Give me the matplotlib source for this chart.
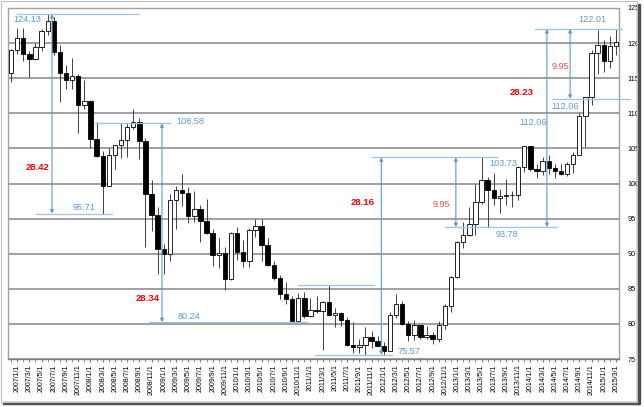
import pandas as pd
import matplotlib.pyplot as plt
from matplotlib.patches import Rectangle

plt.rcParams['font.family'] = ['Liberation Sans', 'DejaVu Sans']

# monthly candles, 2006/12 .. 2015/3
months = pd.date_range('2006-12-01', periods=100, freq='MS')

opens = [115.8, 119.0, 120.7, 118.5, 117.8, 119.5, 121.7, 123.2, 118.7, 115.8,
         114.8, 115.3, 111.2, 111.7, 106.4, 103.9, 99.7, 104.0, 105.5, 106.2,
         108.1, 108.8, 106.0, 98.5, 95.5, 90.6, 89.9, 97.6, 99.1, 98.6,
         95.3, 96.4, 94.7, 93.0, 89.8, 90.1, 86.4, 93.0, 90.3, 88.9,
         93.4, 93.9, 91.3, 88.4, 86.5, 84.2, 83.5, 80.4, 83.7, 81.1,
         82.0, 81.8, 83.1, 81.2, 81.5, 80.5, 77.0, 76.7, 77.0, 78.1,
         77.6, 76.9, 76.2, 81.2, 82.9, 80.0, 78.4, 79.8, 78.1, 78.4,
         77.9, 79.8, 82.5, 86.7, 91.7, 92.6, 94.2, 97.4, 100.5, 99.1,
         97.9, 98.2, 98.3, 98.4, 102.4, 105.3, 102.0, 101.8, 103.2, 102.2,
         101.8, 101.3, 102.8, 104.1, 109.6, 112.3, 118.6, 119.8, 117.5, 119.6]
highs = [119.1, 122.2, 122.2, 118.9, 120.0, 122.0, 124.13, 123.7, 119.8, 116.9,
         117.9, 115.6, 114.7, 111.9, 108.7, 104.7, 105.0, 105.5, 108.6, 108.6,
         110.66, 109.4, 106.5, 100.5, 96.7, 91.4, 98.5, 99.7, 101.4, 99.5,
         98.9, 97.0, 97.8, 93.5, 92.3, 91.0, 93.1, 93.8, 91.9, 93.6,
         94.99, 94.9, 92.2, 88.9, 87.0, 85.9, 84.0, 84.4, 84.5, 83.7,
         84.0, 83.3, 85.5, 82.2, 81.7, 81.0, 80.2, 77.9, 79.5, 79.0,
         78.3, 77.4, 81.7, 84.2, 83.3, 80.4, 80.6, 79.9, 79.7, 78.9,
         80.4, 82.8, 86.8, 91.8, 94.5, 96.7, 99.9, 103.73, 100.9, 101.5,
         99.2, 100.6, 99.0, 102.5, 105.4, 105.4, 102.8, 103.8, 104.1, 102.8,
         102.8, 103.1, 104.5, 110.1, 112.2, 118.98, 121.85, 120.5, 121.0, 122.01]
lows = [114.4, 118.5, 117.5, 115.2, 117.6, 118.9, 121.1, 118.3, 111.6, 113.4,
        113.4, 107.2, 110.6, 105.0, 103.8, 95.71, 99.7, 102.1, 103.6, 103.8,
        107.7, 103.5, 90.9, 93.3, 87.1, 87.1, 89.0, 93.5, 96.8, 94.4,
        94.5, 91.7, 92.8, 88.2, 88.0, 84.8, 86.3, 89.1, 88.1, 88.1,
        92.4, 88.9, 88.2, 86.3, 83.6, 82.9, 80.24, 80.2, 80.8, 81.0,
        81.5, 76.25, 81.2, 79.6, 79.7, 76.9, 75.9, 75.9, 75.6, 76.6,
        76.9, 75.57, 76.1, 80.9, 79.8, 77.6, 77.7, 77.9, 77.9, 77.1,
        77.4, 79.3, 81.7, 86.6, 90.8, 92.5, 92.6, 97.1, 93.78, 97.0,
        95.8, 96.9, 96.6, 97.6, 101.6, 101.8, 100.8, 101.2, 101.4, 100.8,
        101.2, 101.1, 101.5, 104.0, 105.2, 111.2, 115.6, 115.85, 116.4, 118.3]
closes = opens[1:] + [120.1]

yticks = [75, 80, 85, 90, 95, 100, 105, 110, 115, 120, 125]

fig = plt.figure(figsize=(6.44, 4.07), dpi=100)
ax = fig.add_axes([8 / 644, 48 / 407, 611 / 644, 351 / 407])

x = list(range(len(months)))
body_lo = [min(o, c) for o, c in zip(opens, closes)]
body_h = [max(abs(c - o), 0.1) for o, c in zip(opens, closes)]
colors = ['white' if c >= o else 'black' for o, c in zip(opens, closes)]

ax.vlines(x, lows, highs, color='#404040', lw=0.7, zorder=2)
ax.bar(x, body_h, bottom=body_lo, width=0.72, color=colors,
       edgecolor='black', linewidth=0.6, zorder=3)

ax.set_xlim(-0.5, len(months) - 0.5)
ax.set_ylim(75, 125)
ax.set_yticks(yticks)
ax.yaxis.tick_right()
ax.tick_params(axis='y', length=0, pad=6, labelsize=5.2)
for v in yticks:
    ax.axhline(v, color='#a0a0a0', lw=1.4, zorder=1)

ax.set_xticks(x, minor=True)
ax.set_xticks(x[1::2])
ax.set_xticklabels([f'{d.year}/{d.month}/1' for d in months[1::2]],
                   rotation=90, fontsize=5)
ax.tick_params(axis='x', which='both', length=2, color='#808080', pad=2)
for s in ax.spines.values():
    s.set_color('#a0a0a0')
    s.set_linewidth(1.0)
ax.spines['bottom'].set_color('#808080')

blue = '#5b9bd5'
lblue = '#9dc3e6'
red = '#ff0000'
lred = '#ff4b4b'


def hline(y, x0, x1):
    ax.plot([x0, x1], [y, y], color=lblue, lw=0.9, zorder=4, clip_on=False)


def varrow(xp, y0, y1):
    ax.annotate('', xy=(xp, y1), xytext=(xp, y0),
                arrowprops=dict(arrowstyle='<|-|>', color=blue, lw=0.8,
                                mutation_scale=5, shrinkA=0, shrinkB=0),
                zorder=4)


def label(xp, y, s, color=blue, weight='normal', size=6.6, ha='center'):
    ax.text(xp, y, s, color=color, fontsize=size, fontweight=weight,
            ha=ha, va='center', zorder=5)


# 2007 top -> 2008 low
hline(124.13, 1.0, 21.0)
label(0.3, 123.3, '124.13', ha='left')
hline(95.71, 4.1, 16.5)
label(12.0, 96.6, '95.71')
varrow(6.7, 124.13, 95.71)
label(4.4, 102.3, '28.42', red, 'bold', 6.8)

# 2008 high -> 2010 low
hline(108.58, 13.7, 26.0)
label(27.0, 108.85, '108.58', ha='left')
hline(80.24, 22.6, 48.4)
label(29.1, 81.0, '80.24')
varrow(24.7, 108.58, 80.24)
label(22.3, 83.6, '28.34', red, 'bold', 6.8)

# 2011 low -> 2013 high
hline(85.5, 47.0, 59.4)
hline(75.57, 49.8, 62.4)
label(63.2, 76.0, '75.57', ha='left')
hline(103.73, 59.1, 79.5)
label(80.5, 102.9, '103.73')
varrow(60.6, 75.57, 103.73)
label(57.6, 97.3, '28.16', red, 'bold', 6.8)

# 2013 correction
hline(93.78, 71.0, 89.4)
label(81.2, 92.7, '93.78')
varrow(72.8, 93.78, 103.73)
label(70.4, 97.0, '9.95', lred)

# 2013 low -> 2015 high
hline(122.01, 85.8, 100.0)
label(95.1, 123.3, '122.01')
varrow(87.7, 93.78, 122.01)
label(83.6, 112.9, '28.23', red, 'bold', 6.8)
label(85.4, 108.7, '112.06')
hline(112.06, 88.7, 101.3)
label(90.7, 110.9, '112.06')
varrow(91.5, 112.06, 122.01)
label(89.9, 116.7, '9.95', lred)

# drop shadow of the chart box
fig.patches.append(Rectangle((3 / 644, 3 / 407), 636 / 644, 2.5 / 407,
                             transform=fig.transFigure, color='#505050'))
fig.patches.append(Rectangle((637 / 644, 3 / 407), 2.5 / 644, 400 / 407,
                             transform=fig.transFigure, color='#505050'))
fig.patches.append(Rectangle((0.5 / 644, 5.5 / 407), 636.5 / 644, 401 / 407,
                             transform=fig.transFigure, fill=False,
                             edgecolor='#c0c0c0', lw=0.8))

plt.savefig('out.png', dpi=100)
